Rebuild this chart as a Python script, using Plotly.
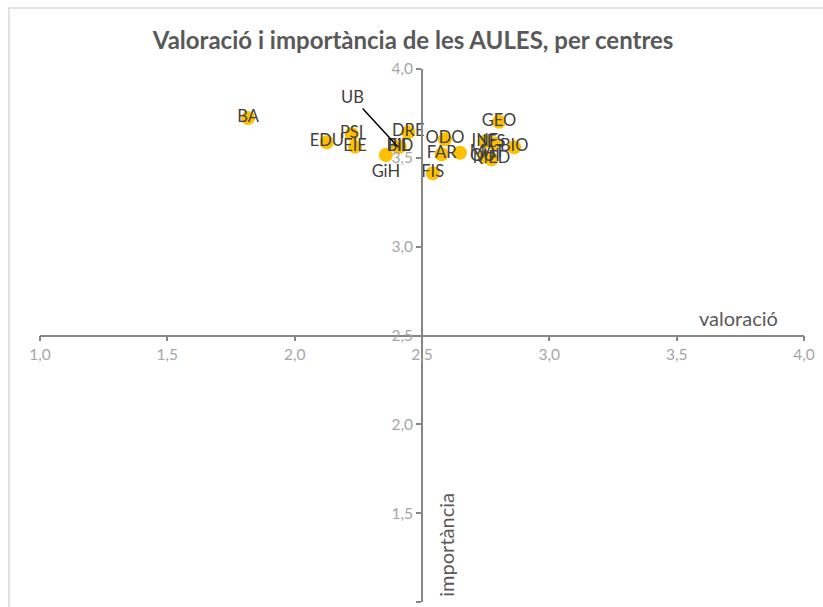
import plotly.graph_objects as go

# Data
centres = ["BA", "EDU", "PSI", "EIE", "GiH", "FIL", "BiD", "DRE", "ODO", "FAR",
           "FIS", "MAT", "INF", "IES", "QUI", "MED", "BIO", "GEO"]
valoracio = [1.817, 2.126, 2.224, 2.237, 2.358, 2.41, 2.413, 2.446, 2.590, 2.577,
             2.542, 2.649, 2.747, 2.782, 2.747, 2.773, 2.862, 2.802]
importancia = [3.724, 3.588, 3.634, 3.563, 3.516, 3.563, 3.563, 3.644, 3.604, 3.52,
               3.413, 3.529, 3.591, 3.582, 3.506, 3.492, 3.559, 3.703]
label_pos = ["middle center"] * len(centres)
label_pos[centres.index("GiH")] = "bottom center"
label_pos[centres.index("MAT")] = "middle right"

ub_name = "UB"
ub_val = 2.406
ub_imp = 3.561

ticks = [1.0, 1.5, 2.0, 2.5, 3.0, 3.5, 4.0]

FONT = "Lato"
fig = go.Figure()
fig.add_trace(go.Scatter(
    x=[ub_val], y=[ub_imp], mode="markers",
    marker=dict(color="#FFC000", size=14), showlegend=False,
))
fig.add_trace(go.Scatter(
    x=valoracio, y=importancia, mode="markers+text",
    text=centres, textposition=label_pos,
    textfont=dict(family=FONT, size=16.5, color="#404040"),
    marker=dict(color="#FFC000", size=14, line=dict(width=0)),
    cliponaxis=False, showlegend=False, hoverinfo="text",
))
fig.add_annotation(
    x=ub_val, y=ub_imp, text=ub_name, showarrow=True, arrowhead=0,
    arrowwidth=1.5, arrowcolor="#000000", ax=-46, ay=-50,
    font=dict(family=FONT, size=16.5, color="#404040"),
)

axis_common = dict(
    range=[1.0, 4.0], tickvals=ticks, tickformat=".1f",
    showgrid=False, zeroline=False, showline=True, linecolor="#868686",
    linewidth=1.7, ticks="outside", ticklen=5, tickcolor="#868686", tickwidth=1.5,
    tickfont=dict(family=FONT, size=15.5, color="#a6a6a6"),
    anchor="free", position=0.5, automargin=False,
)
fig.update_xaxes(**axis_common)
fig.update_yaxes(**axis_common)

fig.add_annotation(xref="paper", yref="paper", x=0.9686, y=0.533,
                   text="valoració", showarrow=False, xanchor="right",
                   yanchor="middle",
                   font=dict(family=FONT, size=20, color="#595959"))
fig.add_annotation(xref="paper", yref="paper", x=0.531, y=0.0056,
                   text="importància", showarrow=False, textangle=-90,
                   xanchor="center", yanchor="bottom",
                   font=dict(family=FONT, size=20, color="#595959"))

fig.add_shape(type="rect", xref="paper", yref="paper",
              x0=-0.0406, y0=-0.03, x1=1.04, y1=1.1144,
              line=dict(color="#d9d9d9", width=1.5), layer="below")

fig.update_layout(
    width=823, height=607,
    margin=dict(l=40, r=19, t=69, b=5),
    paper_bgcolor="white", plot_bgcolor="white",
    separators=",.",
    title=dict(text="<b>Valoració i importància de les AULES, per centres</b>",
               x=0.502, xref="container", xanchor="center",
               y=1 - 41 / 607, yanchor="middle",
               font=dict(family=FONT, size=24, color="#595959")),
)
fig.write_html("out.html", config={"displayModeBar": False},
               post_script="document.body.style.margin='0px';")
